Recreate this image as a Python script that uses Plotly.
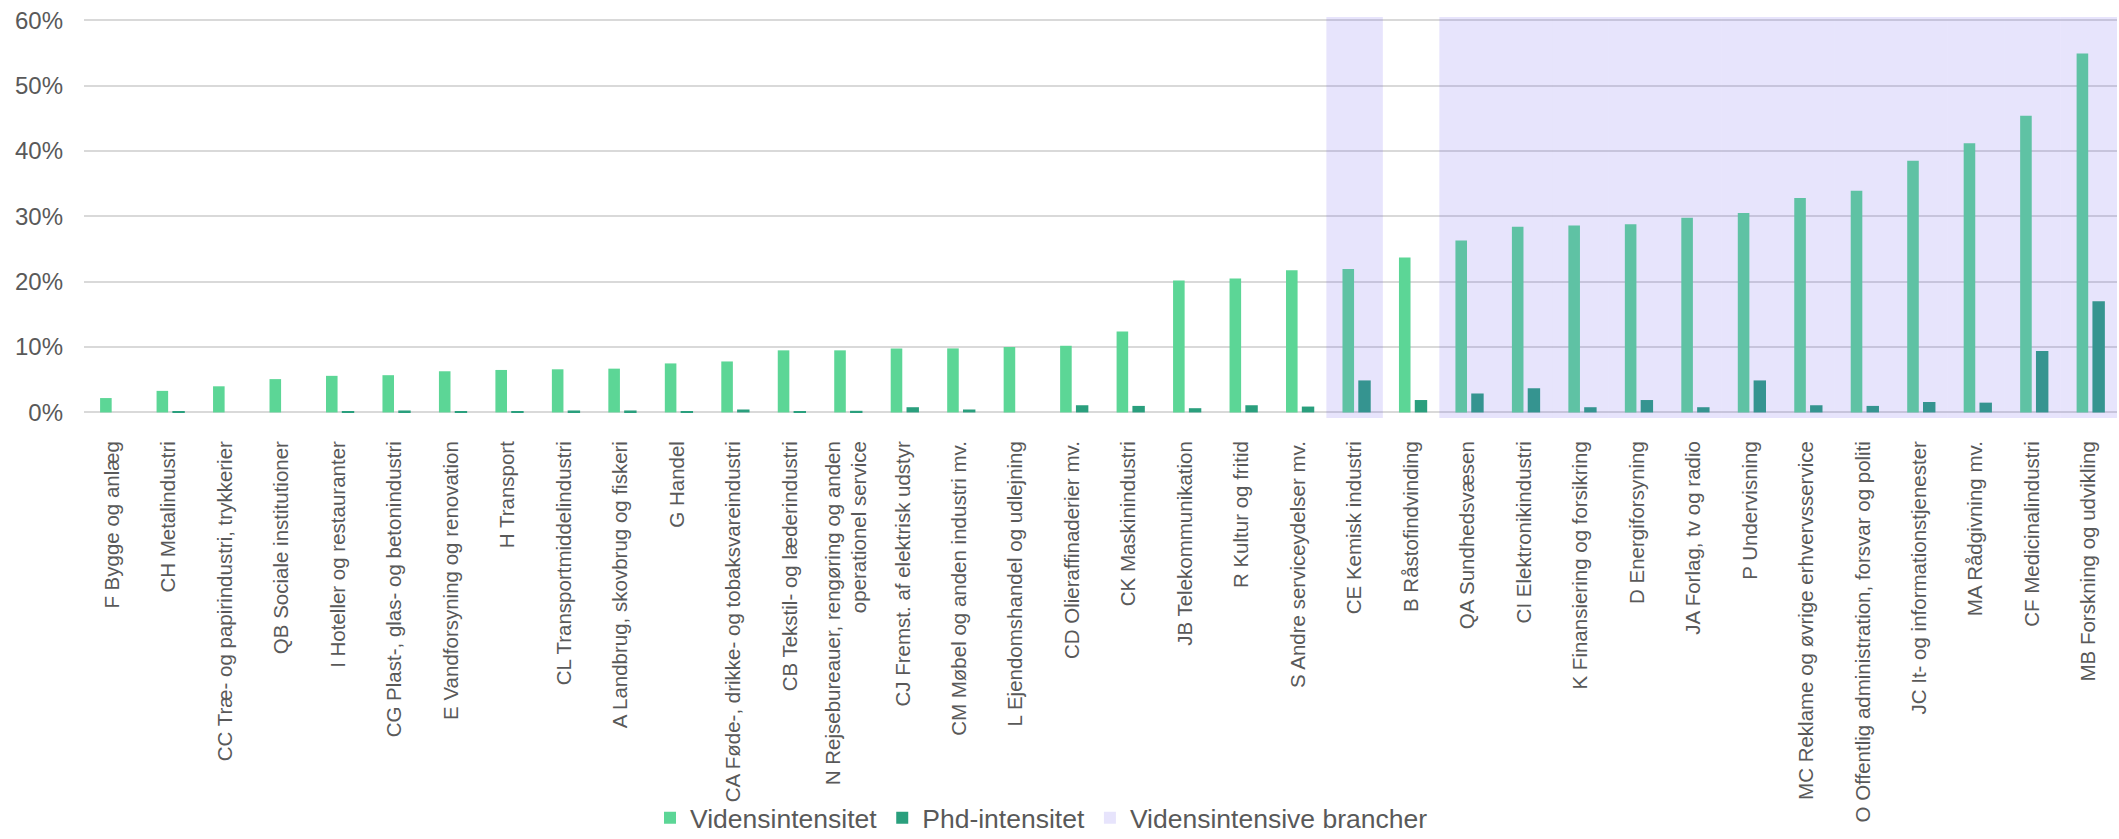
import plotly.graph_objects as go

categories = [
    "F Bygge og anlæg",
    "CH Metalindustri",
    "CC Træ- og papirindustri, trykkerier",
    "QB Sociale institutioner",
    "I Hoteller og restauranter",
    "CG Plast-, glas- og betonindustri",
    "E Vandforsyning og renovation",
    "H Transport",
    "CL Transportmiddelindustri",
    "A Landbrug, skovbrug og fiskeri",
    "G Handel",
    "CA Føde-, drikke- og tobaksvareindustri",
    "CB Tekstil- og læderindustri",
    "N Rejsebureauer, rengøring og anden<br>operationel service",
    "CJ Fremst. af elektrisk udstyr",
    "CM Møbel og anden industri mv.",
    "L Ejendomshandel og udlejning",
    "CD Olieraffinaderier mv.",
    "CK Maskinindustri",
    "JB Telekommunikation",
    "R Kultur og fritid",
    "S Andre serviceydelser mv.",
    "CE Kemisk industri",
    "B Råstofindvinding",
    "QA Sundhedsvæsen",
    "CI Elektronikindustri",
    "K Finansiering og forsikring",
    "D Energiforsyning",
    "JA Forlag, tv og radio",
    "P Undervisning",
    "MC Reklame og øvrige erhvervsservice",
    "O Offentlig administration, forsvar og politi",
    "JC It- og informationstjenester",
    "MA Rådgivning mv.",
    "CF Medicinalindustri",
    "MB Forskning og udvikling",
]

videns = [0.022, 0.033, 0.040, 0.051, 0.056, 0.057, 0.063, 0.065, 0.066, 0.067,
          0.075, 0.078, 0.095, 0.095, 0.098, 0.098, 0.100, 0.102, 0.124, 0.202,
          0.205, 0.2175, 0.2195, 0.237, 0.263, 0.284, 0.286, 0.288, 0.298, 0.305,
          0.328, 0.339, 0.385, 0.412, 0.454, 0.549]

phd = [0.0, 0.001, 0.0, 0.0, 0.001, 0.003, 0.001, 0.001, 0.003, 0.003,
       0.001, 0.0045, 0.0015, 0.0025, 0.008, 0.0045, 0.0, 0.011, 0.010, 0.0065,
       0.011, 0.009, 0.049, 0.019, 0.029, 0.037, 0.008, 0.019, 0.008, 0.049,
       0.011, 0.010, 0.016, 0.015, 0.094, 0.170]

# 1 = vidensintensiv branche
band = [None] * 22 + [1, None] + [1] * 12

y_tickvals = [0, 0.1, 0.2, 0.3, 0.4, 0.5, 0.6]
y_ticktext = ["0%", "10%", "20%", "30%", "40%", "50%", "60%"]

TXT = "#595959"

fig = go.Figure()
fig.add_trace(go.Bar(
    x=categories, y=videns, name="Vidensintensitet",
    marker=dict(color="#5CD696", line=dict(width=0)),
    width=0.205, offset=-0.215,
))
fig.add_trace(go.Bar(
    x=categories, y=phd, name="Phd-intensitet",
    marker=dict(color="#2A9F7D", line=dict(width=0)),
    width=0.22, offset=0.065,
))
fig.add_trace(go.Bar(
    x=categories, y=band, name="Vidensintensive brancher",
    marker=dict(color="rgba(115,95,235,0.17)", line=dict(width=0)),
    width=1, offset=-0.5, yaxis="y2",
))

fig.update_layout(
    width=2119, height=839,
    margin=dict(l=84, r=2, t=17, b=421),
    paper_bgcolor="white", plot_bgcolor="white",
    barmode="overlay",
    showlegend=True,
    legend=dict(
        orientation="h",
        xref="container", yref="container",
        x=0.4915, xanchor="center",
        y=0.025, yanchor="middle",
        bgcolor="rgba(0,0,0,0)",
        font=dict(family="Liberation Sans, Arial, sans-serif", size=26.5, color=TXT),
        itemsizing="constant",
    ),
    xaxis=dict(
        type="category",
        range=[-0.5, 35.5],
        tickangle=-90,
        tickfont=dict(family="Liberation Sans, Arial, sans-serif", size=20.5, color=TXT),
        showgrid=False, showline=False, zeroline=False, ticks="",
        ticklabelstandoff=18, automargin=False,
    ),
    yaxis=dict(
        range=[-0.0085, 0.605],
        tickvals=y_tickvals, ticktext=y_ticktext,
        tickfont=dict(family="Liberation Sans, Arial, sans-serif", size=24, color=TXT),
        showgrid=True, gridcolor="#D9D9D9", gridwidth=2,
        zeroline=False, showline=False, ticks="",
        ticklabelstandoff=20, automargin=False,
    ),
    yaxis2=dict(
        overlaying="y", range=[0, 1], visible=False,
        showgrid=False, zeroline=False, automargin=False,
    ),
)

fig.write_html(
    "out.html",
    config={"displayModeBar": False},
    post_script="document.body.style.margin='0';document.body.style.overflow='hidden';",
)
